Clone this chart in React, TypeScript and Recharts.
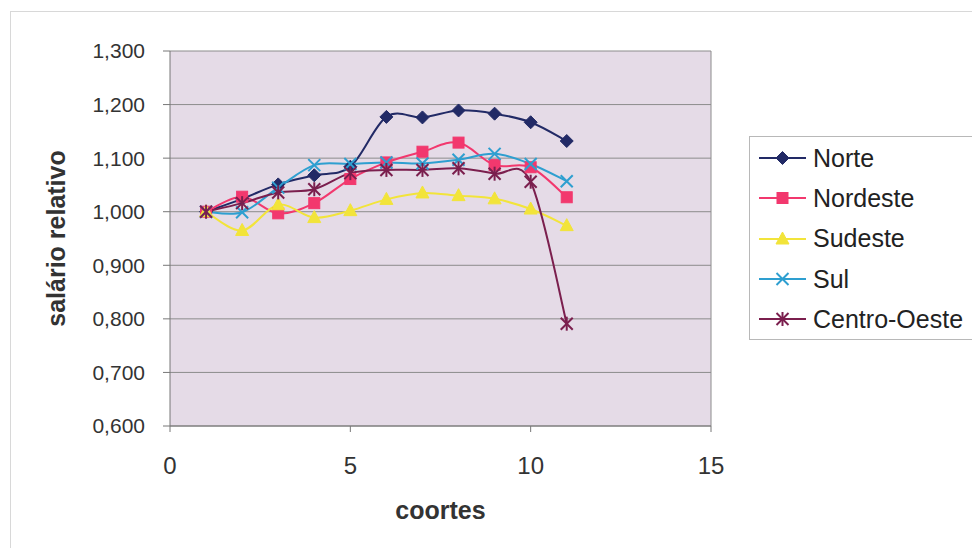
import React from 'react';
import { LineChart, Line, XAxis, YAxis, CartesianGrid, ReferenceLine, Label } from 'recharts';

const coortes = [1, 2, 3, 4, 5, 6, 7, 8, 9, 10, 11];
const norte = [1.0, 1.024, 1.051, 1.068, 1.084, 1.177, 1.176, 1.189, 1.183, 1.167, 1.132];
const nordeste = [1.0, 1.028, 0.997, 1.016, 1.061, 1.092, 1.112, 1.129, 1.087, 1.083, 1.027];
const sudeste = [1.0, 0.965, 1.013, 0.989, 1.002, 1.023, 1.035, 1.03, 1.024, 1.005, 0.974];
const sul = [1.0, 0.999, 1.045, 1.087, 1.089, 1.092, 1.09, 1.097, 1.108, 1.089, 1.057];
const centroOeste = [1.0, 1.016, 1.036, 1.042, 1.072, 1.078, 1.078, 1.081, 1.071, 1.056, 0.791];

const xTicks = [0, 5, 10, 15];
const yTicks = [0.6, 0.7, 0.8, 0.9, 1.0, 1.1, 1.2, 1.3];

const seriesNames = ['Norte', 'Nordeste', 'Sudeste', 'Sul', 'Centro-Oeste'];
const seriesValues = [norte, nordeste, sudeste, sul, centroOeste];
const seriesColors = ['#222a66', '#f2386e', '#f2e43a', '#2e9fd0', '#7b1f4e'];
const seriesMarkers = ['diamond', 'square', 'triangle', 'x', 'star'];

const data = coortes.map((c, i) => {
  const row: any = { x: c };
  seriesNames.forEach((n, k) => { row[n] = seriesValues[k][i]; });
  return row;
});

// Excel-style smoothing (Catmull-Rom, control points at 1/6)
const excelCurve: any = (context: any) => {
  let pts: number[][] = [];
  return {
    areaStart() {},
    areaEnd() {},
    lineStart() { pts = []; },
    point(x: number, y: number) { pts.push([+x, +y]); },
    lineEnd() {
      if (!pts.length) return;
      context.moveTo(pts[0][0], pts[0][1]);
      for (let i = 0; i < pts.length - 1; i++) {
        const p0 = pts[i - 1] || pts[i];
        const p1 = pts[i];
        const p2 = pts[i + 1];
        const p3 = pts[i + 2] || pts[i + 1];
        const c1x = p1[0] + (p2[0] - p0[0]) / 6;
        const c1y = p1[1] + (p2[1] - p0[1]) / 6;
        const c2x = p2[0] - (p3[0] - p1[0]) / 6;
        const c2y = p2[1] - (p3[1] - p1[1]) / 6;
        context.bezierCurveTo(c1x, c1y, c2x, c2y, p2[0], p2[1]);
      }
    },
  };
};

function MarkerShape({ kind, cx, cy, color }: { kind: string; cx: number; cy: number; color: string }) {
  if (cx == null || cy == null) return null;
  switch (kind) {
    case 'diamond':
      return <polygon points={`${cx},${cy - 6.5} ${cx + 6.5},${cy} ${cx},${cy + 6.5} ${cx - 6.5},${cy}`} fill={color} stroke={color} />;
    case 'square':
      return <rect x={cx - 5.5} y={cy - 5.5} width={11} height={11} fill={color} stroke={color} />;
    case 'triangle':
      return <polygon points={`${cx},${cy - 7} ${cx + 6.5},${cy + 5} ${cx - 6.5},${cy + 5}`} fill={color} stroke={color} />;
    case 'x':
      return (
        <g stroke={color} strokeWidth={2}>
          <line x1={cx - 6} y1={cy - 6} x2={cx + 6} y2={cy + 6} />
          <line x1={cx - 6} y1={cy + 6} x2={cx + 6} y2={cy - 6} />
        </g>
      );
    default:
      return (
        <g stroke={color} strokeWidth={2}>
          <line x1={cx - 6} y1={cy - 6} x2={cx + 6} y2={cy + 6} />
          <line x1={cx - 6} y1={cy + 6} x2={cx + 6} y2={cy - 6} />
          <line x1={cx} y1={cy - 7} x2={cx} y2={cy + 7} />
        </g>
      );
  }
}

const fmt = (v: number) => v.toFixed(3).replace('.', ',');

const LegendBox = () => (
  <div
    style={{
      position: 'absolute',
      left: 749,
      top: 136,
      border: '1px solid #b8b8b8',
      background: '#fff',
      paddingTop: 1,
      paddingLeft: 9,
      width: 240,
      boxSizing: 'border-box',
      fontFamily: '"Liberation Sans", Arial, sans-serif',
      fontSize: 25,
      color: '#222',
    }}
  >
    {seriesNames.map((n, k) => (
      <div key={n} style={{ height: 40.3, display: 'flex', alignItems: 'center' }}>
        <svg width={54} height={20} style={{ flex: 'none' }}>
          <line x1={0} y1={10} x2={47} y2={10} stroke={seriesColors[k]} strokeWidth={2} />
          <MarkerShape kind={seriesMarkers[k]} cx={23.5} cy={10} color={seriesColors[k]} />
        </svg>
        <span style={{ whiteSpace: 'nowrap' }}>{n}</span>
      </div>
    ))}
  </div>
);

export default function App() {
  return (
    <div style={{ position: 'absolute', left: 0, top: 0, width: 972, height: 548, background: '#fff', overflow: 'hidden' }}>
      <div style={{ position: 'absolute', left: 10, top: 11, width: 980, height: 560, border: '1px solid #d8d8d8' }} />
      <div style={{ position: 'absolute', left: 0, top: 0 }}>
        <LineChart
          width={972}
          height={548}
          data={data}
          margin={{ top: 51, right: 261, left: 70, bottom: 62 }}
          style={{ fontFamily: '"Liberation Sans", Arial, sans-serif' }}
        >
          <CartesianGrid vertical={false} stroke="#8c8c8c" fill="#e5dbe7" fillOpacity={1} horizontalValues={yTicks} />
          <ReferenceLine x={15} stroke="#8c8c8c" />
          <XAxis
            dataKey="x"
            type="number"
            domain={[0, 15]}
            ticks={xTicks}
            height={60}
            stroke="#777"
            tickSize={6}
            tickMargin={25}
            tick={{ fill: '#333', fontSize: 24 }}
            allowDataOverflow
          >
            <Label value="coortes" position="bottom" offset={15} style={{ fontWeight: 'bold', fontSize: 25, fill: '#333' }} />
          </XAxis>
          <YAxis
            type="number"
            domain={[0.6, 1.3]}
            ticks={yTicks}
            width={100}
            stroke="#777"
            tickSize={7}
            tickMargin={18}
            tickFormatter={fmt}
            tick={{ fill: '#333', fontSize: 21 }}
            interval={0}
            allowDataOverflow
          >
            <Label value="salário relativo" angle={-90} position="center" dx={-64} style={{ fontWeight: 'bold', fontSize: 25, fill: '#333', textAnchor: 'middle' }} />
          </YAxis>
          {seriesNames.map((n, k) => (
            <Line
              key={n}
              dataKey={n}
              name={n}
              type={excelCurve}
              stroke={seriesColors[k]}
              strokeWidth={2}
              isAnimationActive={false}
              dot={(p: any) => <MarkerShape key={`${n}-${p.index}`} kind={seriesMarkers[k]} cx={p.cx} cy={p.cy} color={seriesColors[k]} />}
              activeDot={false}
            />
          ))}
        </LineChart>
      </div>
      <LegendBox />
    </div>
  );
}
